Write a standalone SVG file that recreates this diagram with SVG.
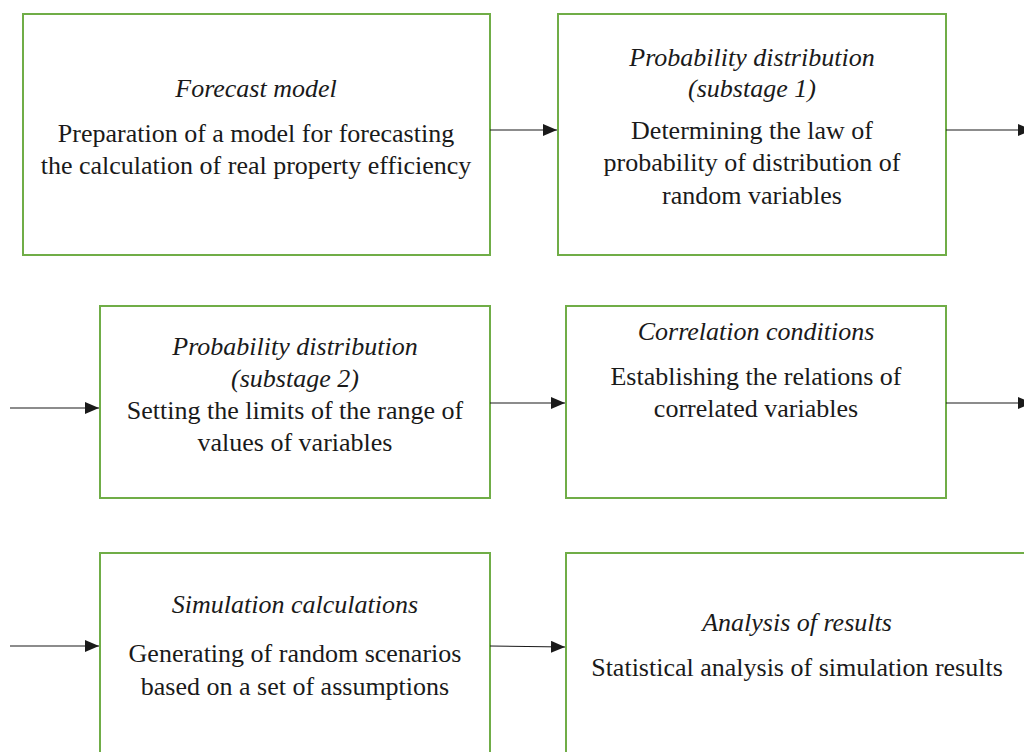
<svg xmlns="http://www.w3.org/2000/svg" width="1024" height="752" viewBox="0 0 1024 752">
<style>
.box{fill:#fff;stroke:#70AD47;stroke-width:2}
text{font-family:"Liberation Serif","Times New Roman",serif;font-size:26px;fill:#1a1a1a;text-anchor:middle}
.t{font-style:italic}
.c{stroke:#1a1a1a;stroke-width:1.2;fill:none;marker-end:url(#ah)}
</style>
<defs>
<marker id="ah" markerWidth="14" markerHeight="12" refX="14" refY="6" orient="auto" markerUnits="userSpaceOnUse">
<path d="M0,0 L14,6 L0,12 Z" fill="#1a1a1a"/>
</marker>
</defs>
<rect width="1024" height="752" fill="#fff"/>
<g id="n1">
<rect class="box" x="23" y="14" width="467" height="241"/>
<text class="t" x="256" y="97">Forecast model</text>
<text x="256" y="142">Preparation of a model for forecasting</text>
<text x="256" y="174">the calculation of real property efficiency</text>
</g>
<g id="n2">
<rect class="box" x="558" y="14" width="388" height="241"/>
<text class="t" x="752" y="66">Probability distribution</text>
<text class="t" x="752" y="97">(substage 1)</text>
<text x="752" y="139">Determining the law of</text>
<text x="752" y="171">probability of distribution of</text>
<text x="752" y="204">random variables</text>
</g>
<g id="n3">
<rect class="box" x="100" y="306" width="390" height="192"/>
<text class="t" x="295" y="355">Probability distribution</text>
<text class="t" x="295" y="387">(substage 2)</text>
<text x="295" y="419">Setting the limits of the range of</text>
<text x="295" y="451">values of variables</text>
</g>
<g id="n4">
<rect class="box" x="566" y="306" width="380" height="192"/>
<text class="t" x="756" y="340">Correlation conditions</text>
<text x="756" y="385">Establishing the relations of</text>
<text x="756" y="417">correlated variables</text>
</g>
<g id="n5">
<rect class="box" x="100" y="553" width="390" height="210"/>
<text class="t" x="295" y="613">Simulation calculations</text>
<text x="295" y="662">Generating of random scenarios</text>
<text x="295" y="695">based on a set of assumptions</text>
</g>
<g id="n6">
<rect class="box" x="566" y="553" width="470" height="210"/>
<text class="t" x="797" y="631">Analysis of results</text>
<text x="797" y="676">Statistical analysis of simulation results</text>
</g>
<g id="connectors">
<line class="c" x1="490" y1="130" x2="557" y2="130"/>
<line class="c" x1="946" y1="130" x2="1032" y2="130"/>
<line class="c" x1="10" y1="408" x2="99" y2="408"/>
<line class="c" x1="490" y1="403" x2="565" y2="403"/>
<line class="c" x1="946" y1="403" x2="1032" y2="403"/>
<line class="c" x1="10" y1="646" x2="99" y2="646"/>
<line class="c" x1="490" y1="646" x2="565" y2="647"/>
</g>
</svg>
